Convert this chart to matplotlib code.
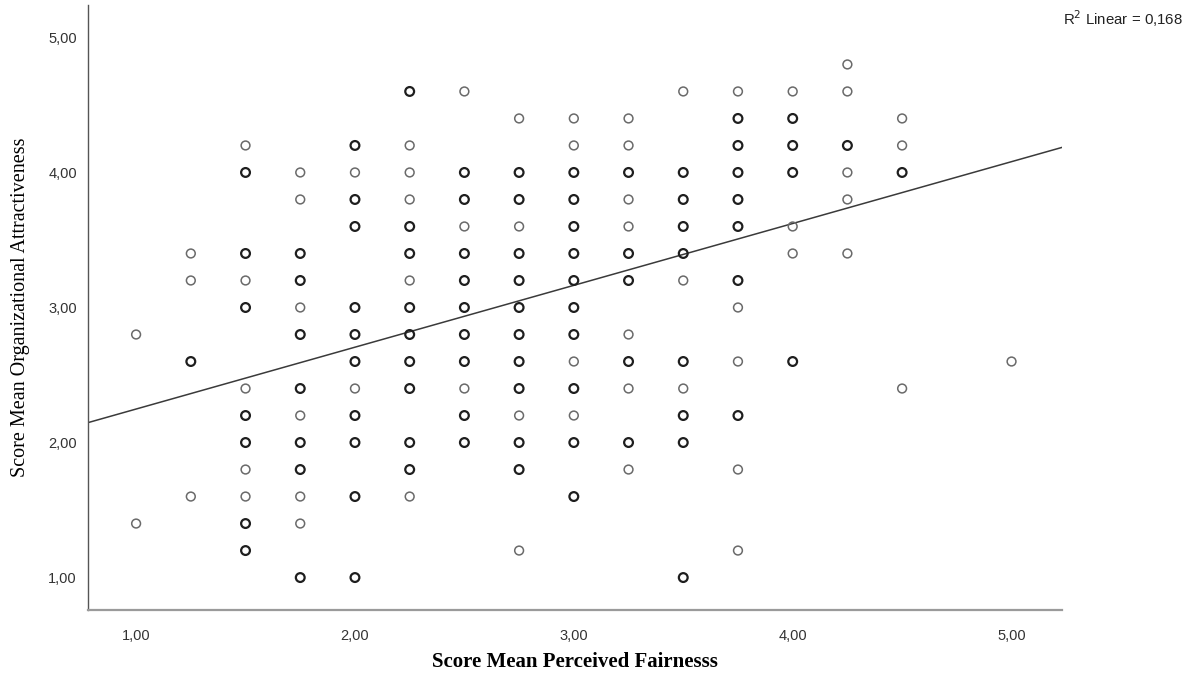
#!/usr/bin/env python3
import numpy as np
import matplotlib
matplotlib.use("Agg")
import matplotlib.pyplot as plt

# fairness value for each column of points, then the attractiveness values seen in it
# count: 1 = single case (thin ring), 2 = several overlapping cases (dark ring)
col_x = [1.00, 1.25, 1.50, 1.75, 2.00, 2.25, 2.50, 2.75, 3.00, 3.25, 3.50, 3.75, 4.00, 4.25, 4.50, 5.00]
col_y = [
    [2.8, 1.4],
    [3.4, 3.2, 2.6, 1.6],
    [4.2, 4.0, 3.4, 3.2, 3.0, 2.4, 2.2, 2.0, 1.8, 1.6, 1.4, 1.2],
    [4.0, 3.8, 3.4, 3.2, 3.0, 2.8, 2.4, 2.2, 2.0, 1.8, 1.6, 1.4, 1.0],
    [4.2, 4.0, 3.8, 3.6, 3.0, 2.8, 2.6, 2.4, 2.2, 2.0, 1.6, 1.0],
    [4.6, 4.2, 4.0, 3.8, 3.6, 3.4, 3.2, 3.0, 2.8, 2.6, 2.4, 2.0, 1.8, 1.6],
    [4.6, 4.0, 3.8, 3.6, 3.4, 3.2, 3.0, 2.8, 2.6, 2.4, 2.2, 2.0],
    [4.4, 4.0, 3.8, 3.6, 3.4, 3.2, 3.0, 2.8, 2.6, 2.4, 2.2, 2.0, 1.8, 1.2],
    [4.4, 4.2, 4.0, 3.8, 3.6, 3.4, 3.2, 3.0, 2.8, 2.6, 2.4, 2.2, 2.0, 1.6],
    [4.4, 4.2, 4.0, 3.8, 3.6, 3.4, 3.2, 2.8, 2.6, 2.4, 2.0, 1.8],
    [4.6, 4.0, 3.8, 3.6, 3.4, 3.2, 2.6, 2.4, 2.2, 2.0, 1.0],
    [4.6, 4.4, 4.2, 4.0, 3.8, 3.6, 3.2, 3.0, 2.6, 2.2, 1.8, 1.2],
    [4.6, 4.4, 4.2, 4.0, 3.6, 3.4, 2.6],
    [4.8, 4.6, 4.2, 4.0, 3.8, 3.4],
    [4.4, 4.2, 4.0, 2.4],
    [2.6],
]
col_n = [
    [1, 1],
    [1, 1, 2, 1],
    [1, 2, 2, 1, 2, 1, 2, 2, 1, 1, 2, 2],
    [1, 1, 2, 2, 1, 2, 2, 1, 2, 2, 1, 1, 2],
    [2, 1, 2, 2, 2, 2, 2, 1, 2, 2, 2, 2],
    [2, 1, 1, 1, 2, 2, 1, 2, 2, 2, 2, 2, 2, 1],
    [1, 2, 2, 1, 2, 2, 2, 2, 2, 1, 2, 2],
    [1, 2, 2, 1, 2, 2, 2, 2, 2, 2, 1, 2, 2, 1],
    [1, 1, 2, 2, 2, 2, 2, 2, 2, 1, 2, 1, 2, 2],
    [1, 1, 2, 1, 1, 2, 2, 1, 2, 1, 2, 1],
    [1, 2, 2, 2, 2, 1, 2, 1, 2, 2, 2],
    [1, 2, 2, 2, 2, 2, 2, 1, 1, 2, 1, 1],
    [1, 2, 2, 2, 1, 1, 2],
    [1, 1, 2, 1, 1, 1],
    [1, 1, 2, 1],
    [1],
]
# fit line as drawn in the output (intercept, slope) and its R squared
fit_intercept = 1.79
fit_slope = 0.458
r_squared = "0,168"
x_ticks = [1, 2, 3, 4, 5]
y_ticks = [1, 2, 3, 4, 5]


def comma(v):
    return ("%.2f" % v).replace(".", ",")


def main():
    fig = plt.figure(figsize=(11.95, 6.8), dpi=100)
    ax = fig.add_axes([0.0736, 0.103, 0.815, 0.8896])

    xs, ys, ns = [], [], []
    for x, yv, nv in zip(col_x, col_y, col_n):
        for y, n in zip(yv, nv):
            xs.append(x)
            ys.append(y)
            ns.append(n)
    xs, ys, ns = np.array(xs), np.array(ys), np.array(ns)

    single = ns == 1
    ax.scatter(xs[single], ys[single], s=40, facecolors="none",
               edgecolors="#6a6a6a", linewidths=1.1, zorder=3)
    ax.scatter(xs[~single], ys[~single], s=40, facecolors="none",
               edgecolors="#1e1e1e", linewidths=1.6, zorder=3)

    xlim = (0.78, 5.23)
    ax.set_xlim(*xlim)
    ax.set_ylim(0.76, 5.24)
    lx = np.array(xlim)
    ax.plot(lx, fit_intercept + fit_slope * lx, color="#3a3a3a", lw=1.1, zorder=2)

    for s in ["top", "right"]:
        ax.spines[s].set_visible(False)
    ax.spines["left"].set_color("#555555")
    ax.spines["left"].set_linewidth(1.0)
    ax.spines["bottom"].set_color("#9a9a9a")
    ax.spines["bottom"].set_linewidth(1.6)

    ax.set_xticks(x_ticks)
    ax.set_yticks(y_ticks)
    ax.set_xticklabels([comma(v) for v in x_ticks])
    ax.set_yticklabels([comma(v) for v in y_ticks])
    ax.tick_params(axis="both", length=0, labelcolor="#333333", labelsize=10.5)
    ax.tick_params(axis="x", pad=14)
    ax.tick_params(axis="y", pad=8)
    for lab in ax.get_xticklabels() + ax.get_yticklabels():
        lab.set_fontfamily("Liberation Sans")

    ax.set_xlabel("Score Mean Perceived Fairnesss", fontfamily="Liberation Serif",
                  fontweight="bold", fontsize=15, labelpad=6)
    ax.set_ylabel("Score Mean Organizational Attractiveness", fontfamily="Liberation Serif",
                  fontsize=14.5, labelpad=13)

    fig.text(0.99, 0.972, r"R$^2$ Linear = " + r_squared, ha="right", va="center",
             fontsize=10.8, fontfamily="Liberation Sans", color="#222222")

    fig.savefig("out.png", dpi=100)


if __name__ == "__main__":
    main()
